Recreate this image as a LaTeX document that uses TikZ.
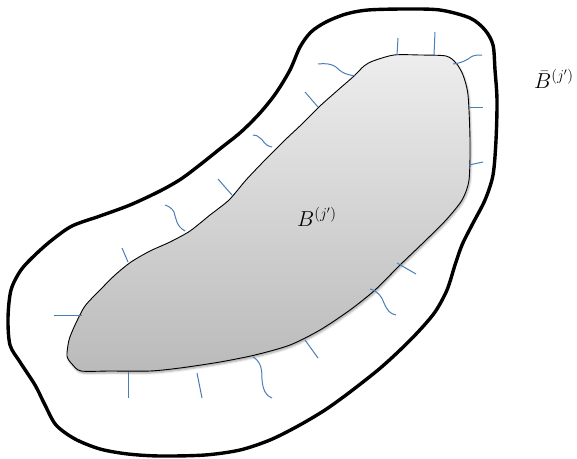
\documentclass[tikz,border=0pt]{standalone}
\usetikzlibrary{shadows.blur}
\definecolor{tickblue}{HTML}{4A7EBB}
\tikzset{
  outerline/.style={line width=3.4pt, line join=round},
  innerfill/.style={draw=black, line width=0.9pt, top color=gray!14, bottom color=gray!54,
     blur shadow={shadow xshift=1pt, shadow yshift=-2pt, shadow blur radius=2pt, shadow opacity=35}},
  tick/.style={draw=tickblue, line width=1pt},
  lbl/.style={font=\fontsize{17}{20}\selectfont, inner sep=0pt, scale=1.25, transform shape}
}
\begin{document}
\begin{tikzpicture}[x=1pt,y=-1pt]
\useasboundingbox (0,0) rectangle (577,458);
% outer boundary
\draw[outerline] plot[smooth cycle, tension=0.5] coordinates {
 (368,10) (405,9) (440,10) (470,18) (485,30) (493,45) (495,70) (497,100) (496,140) (493,175)
 (485,200) (472,225) (462,245) (455,265) (447,290) (435,312) (418,332) (398,352) (378,370)
 (350,392) (325,410) (298,426) (270,440) (240,450) (205,455) (160,456) (128,454) (100,449)
 (75,439) (56,425) (45,405) (35,385) (20,362) (10,345) (8,318) (11,290) (21,270) (36,254)
 (52,240) (72,226) (100,216) (130,205) (160,191) (181,179) (201,164) (221,148) (241,132)
 (260,113) (276,93) (290,70) (300,47) (311,32) (326,22) (346,14)};
% inner shape
\path[innerfill] plot[smooth cycle, tension=0.45] coordinates {
 (373,61) (394,55) (420,55) (446,56) (456,63) (463,75) (468,95) (470,140) (469,180)
 (462,200) (446,220) (425,241) (400,265) (375,290) (350,310) (320,330) (290,345)
 (255,355) (220,362) (180,368) (150,371) (110,371) (81,371) (72,364) (67,356) (69,340)
 (75,325) (85,306) (100,290) (115,275) (131,262) (150,251) (170,242) (190,231) (210,215)
 (229,200) (246,180) (265,160) (285,140) (302,124) (320,106) (338,90) (354,76) (364,66)};
% blue ticks
\draw[tick] (397,55) -- (398,38);
\draw[tick] (434,55) -- (435,32);
\draw[tick] (355,76) .. controls (343,74) and (340,71) .. (336,67) .. controls (332,64) and (325,63) .. (318,64);
\draw[tick] (318,107) -- (305,92);
\draw[tick] (453,64) .. controls (462,63) and (467,60) .. (471,57) .. controls (474,55) and (478,55) .. (482,55);
\draw[tick] (470,107) -- (483,107);
\draw[tick] (469,165) -- (483,162);
\draw[tick] (272,147) .. controls (263,145) and (264,140) .. (260,138) .. controls (258,136) and (256,135) .. (253,135);
\draw[tick] (232,195) -- (218,179);
\draw[tick] (185,231) .. controls (176,226) and (176,218) .. (174,212) .. controls (172,208) and (168,206) .. (165,205);
\draw[tick] (128,262) -- (122,248);
\draw[tick] (82,315) -- (54,315);
\draw[tick] (128,372) -- (128,398);
\draw[tick] (197,373) -- (202,398);
\draw[tick] (253,357) .. controls (262,362) and (262,372) .. (262,380) .. controls (263,390) and (266,396) .. (272,398);
\draw[tick] (305,340) -- (318,358);
\draw[tick] (370,289) .. controls (378,291) and (382,297) .. (384,303) .. controls (387,310) and (390,314) .. (396,315);
\draw[tick] (397,263) -- (416,274);
% labels
\node[lbl] (inner) at (317,217) {$B^{(j')}$};
\node[lbl] (outer) at (554,79) {$\bar{B}^{(j')}$};
\end{tikzpicture}
\end{document}
